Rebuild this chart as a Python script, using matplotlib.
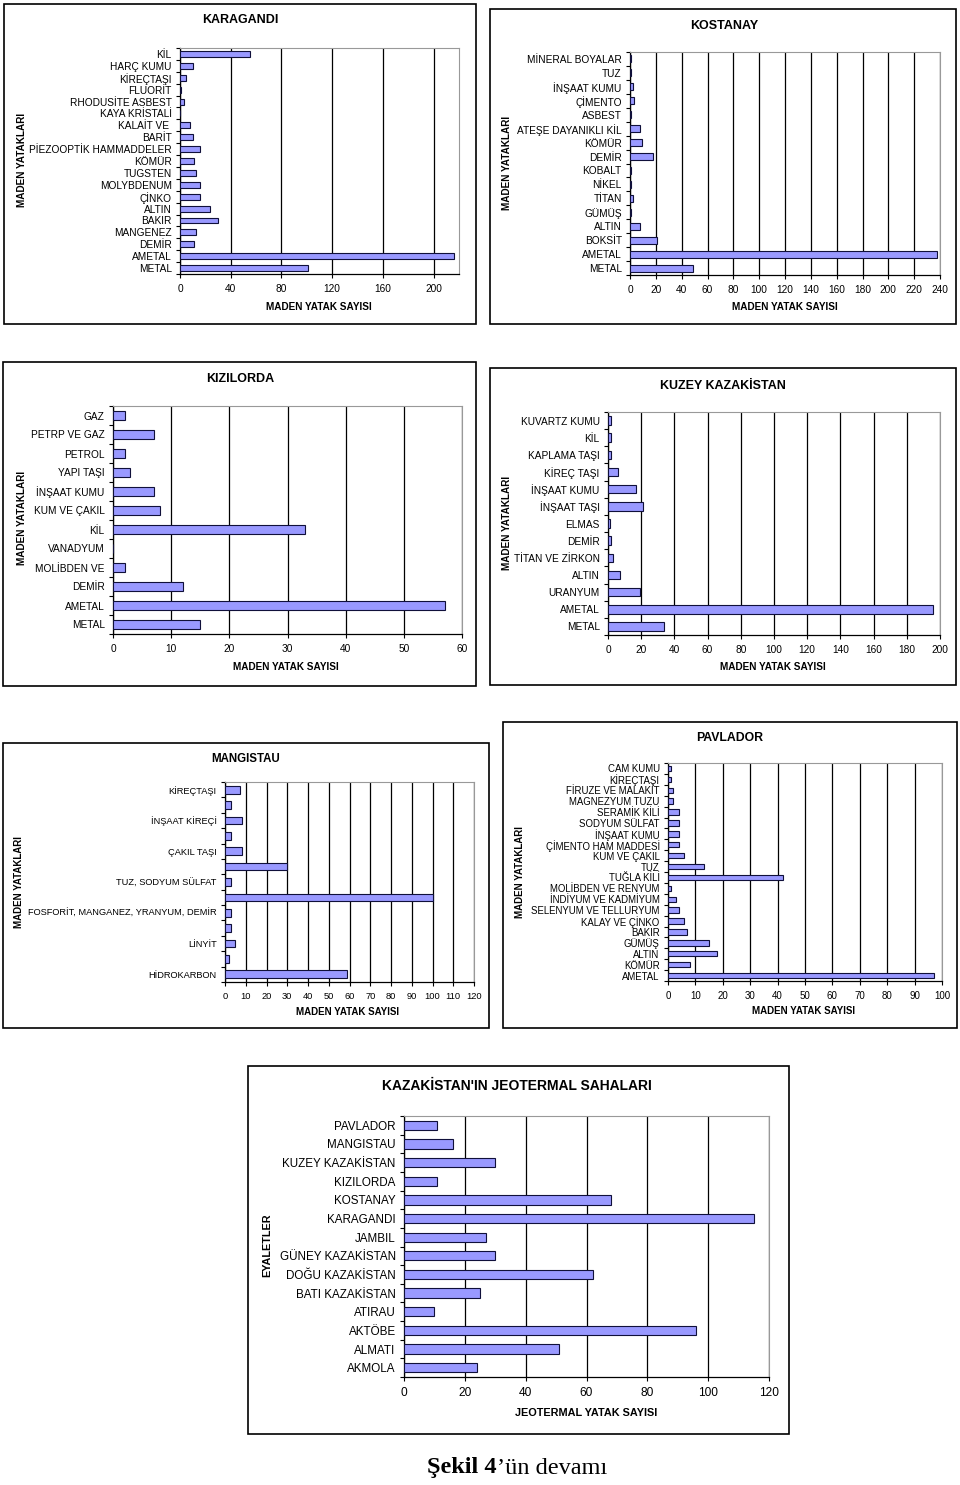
import numpy as np
import matplotlib.pyplot as plt
from matplotlib.patches import Rectangle

plt.rcParams['font.family'] = ['Liberation Sans', 'DejaVu Sans']

W, H = 960, 1485

# data, listed top to bottom as in the picture
karagandi_labels = ['KİL', 'HARÇ KUMU', 'KİREÇTAŞI', 'FLUORİT', 'RHODUSİTE ASBEST',
                    'KAYA KRİSTALİ', 'KALAİT VE ', 'BARİT', 'PİEZOOPTİK HAMMADDELER',
                    'KÖMÜR', 'TUGSTEN', 'MOLYBDENUM', 'ÇİNKO', 'ALTIN', 'BAKIR',
                    'MANGENEZ', 'DEMİR', 'AMETAL', 'METAL']
karagandi_values = [55, 10, 4.5, 1, 3, 0, 8, 10, 16, 11, 12.5, 16, 16, 24, 30, 13, 11, 216, 101]

kostanay_labels = ['MİNERAL BOYALAR', 'TUZ', 'İNŞAAT KUMU', 'ÇİMENTO', 'ASBEST',
                   'ATEŞE DAYANIKLI KİL', 'KÖMÜR', 'DEMİR', 'KOBALT', 'NİKEL', 'TİTAN',
                   'GÜMÜŞ', 'ALTIN', 'BOKSİT', 'AMETAL', 'METAL']
kostanay_values = [1, 1, 2, 3, 1, 7.5, 9, 18, 1, 1, 2, 1, 7.5, 21, 238, 49]

kizilorda_labels = ['GAZ', 'PETRP VE GAZ', 'PETROL', 'YAPI TAŞI', 'İNŞAAT KUMU',
                    'KUM VE ÇAKIL', 'KİL', 'VANADYUM', 'MOLİBDEN VE', 'DEMİR',
                    'AMETAL', 'METAL']
kizilorda_values = [2, 7, 2, 3, 7, 8, 33, 0, 2, 12, 57, 15]

kuzey_labels = ['KUVARTZ KUMU', 'KİL', 'KAPLAMA TAŞI', 'KİREÇ TAŞI', 'İNŞAAT KUMU',
                'İNŞAAT TAŞI', 'ELMAS', 'DEMİR', 'TİTAN VE ZİRKON', 'ALTIN',
                'URANYUM', 'AMETAL', 'METAL']
kuzey_values = [2, 2, 2, 6, 17, 21, 1, 2, 3, 7, 19, 196, 34]

mangistau_labels = ['KİREÇTAŞI', '', 'İNŞAAT KİREÇİ', '', 'ÇAKIL TAŞI', '',
                    'TUZ, SODYUM SÜLFAT', '', 'FOSFORİT, MANGANEZ, YRANYUM, DEMİR', '',
                    'LİNYİT', '', 'HİDROKARBON']
mangistau_values = [7, 3, 8, 3, 8, 30, 3, 100, 3, 3, 5, 2, 59]

pavlador_labels = ['CAM KUMU', 'KİREÇTAŞI', 'FİRUZE VE MALAKİT', 'MAGNEZYUM TUZU',
                   'SERAMİK KİLİ', 'SODYUM SÜLFAT', 'İNŞAAT KUMU', 'ÇİMENTO HAM MADDESİ',
                   'KUM VE ÇAKIL', 'TUZ', 'TUĞLA KİLİ', 'MOLİBDEN VE RENYUM',
                   'İNDİYUM VE KADMİYUM', 'SELENYUM VE TELLURYUM', 'KALAY VE ÇİNKO',
                   'BAKIR', 'GÜMÜŞ', 'ALTIN', 'KÖMÜR', 'AMETAL']
pavlador_values = [1, 1, 2, 2, 4, 4, 4, 4, 6, 13, 42, 1, 3, 4, 6, 7, 15, 18, 8, 97]

jeo_labels = ['PAVLADOR', 'MANGISTAU', 'KUZEY KAZAKİSTAN', 'KIZILORDA', 'KOSTANAY',
              'KARAGANDI', 'JAMBIL', 'GÜNEY KAZAKİSTAN', 'DOĞU KAZAKİSTAN',
              'BATI KAZAKİSTAN', 'ATIRAU', 'AKTÖBE', 'ALMATI', 'AKMOLA']
jeo_values = [11, 16, 30, 11, 68, 115, 27, 30, 62, 25, 10, 96, 51, 24]


def ftext(fig, x, y, s, **kw):
    kw.setdefault('ha', 'center')
    kw.setdefault('va', 'center')
    fig.text(x / W, 1 - y / H, s, **kw)


def panel(fig, box, plot, labels, values, xmax, tmax, step, title, title_xy,
          ylab, ylab_xy, xlab, xlab_xy, fs=7.3, tfs=9, lfs=7.2, xfs=None):
    x0, y0, x1, y1 = box
    fig.patches.append(Rectangle((x0 / W, 1 - y1 / H), (x1 - x0) / W, (y1 - y0) / H,
                                 transform=fig.transFigure, fill=False, lw=1.2, ec='black'))
    px0, py0, px1, py1 = plot
    ax = fig.add_axes([px0 / W, 1 - py1 / H, (px1 - px0) / W, (py1 - py0) / H])
    y = np.arange(len(labels))
    ax.barh(y, values, height=0.5, color='#9999FF', edgecolor='#10103a', linewidth=0.8, zorder=3)
    ax.set_ylim(len(labels) - 0.5, -0.5)
    ax.set_xlim(0, xmax)
    ax.set_xticks(np.arange(0, tmax + 1, step))
    ax.set_yticks(y)
    ax.set_yticklabels(labels, fontsize=fs)
    ax.set_yticks(np.arange(len(labels) + 1) - 0.5, minor=True)
    ax.tick_params(axis='y', which='major', length=0, pad=6)
    ax.tick_params(axis='y', which='minor', length=3, width=0.8)
    ax.tick_params(axis='x', length=3, width=0.8, labelsize=xfs or fs, pad=4)
    ax.grid(axis='x', color='black', lw=0.9)
    ax.set_axisbelow(True)
    for s in ['top', 'right']:
        ax.spines[s].set_color('#999999')
    for s in ['left', 'bottom']:
        ax.spines[s].set_linewidth(0.9)
    ftext(fig, *title_xy, title, fontsize=tfs, fontweight='bold')
    ftext(fig, *ylab_xy, ylab, fontsize=lfs, fontweight='bold', rotation=90)
    ftext(fig, *xlab_xy, xlab, fontsize=lfs, fontweight='bold')
    return ax


fig = plt.figure(figsize=(W / 100, H / 100), dpi=100)

MY = 'MADEN YATAKLARI'
MS = 'MADEN YATAK SAYISI'

panel(fig, (4, 4, 476, 324), (180, 48, 459, 274), karagandi_labels, karagandi_values,
      220, 200, 40, 'KARAGANDI', (240, 20), MY, (22, 160), MS, (319, 307))
panel(fig, (490, 9, 956, 324), (630, 52, 940, 275), kostanay_labels, kostanay_values,
      240, 240, 20, 'KOSTANAY', (724, 26), MY, (507, 163), MS, (785, 307))
panel(fig, (3, 362, 476, 686), (113, 406, 462, 634), kizilorda_labels, kizilorda_values,
      60, 60, 10, 'KIZILORDA', (240, 379), MY, (22, 518), MS, (286, 667))
panel(fig, (490, 368, 956, 685), (608, 412, 940, 635), kuzey_labels, kuzey_values,
      200, 200, 20, 'KUZEY KAZAKİSTAN', (723, 386), MY, (507, 523), MS, (773, 667))
panel(fig, (3, 743, 489, 1028), (225, 782, 474, 982), mangistau_labels, mangistau_values,
      120, 120, 10, 'MANGISTAU', (246, 759), MY, (19, 882), MS, (348, 1012),
      fs=6.7, tfs=8.3, lfs=7)
panel(fig, (503, 722, 957, 1028), (668, 763, 942, 981), pavlador_labels, pavlador_values,
      100, 100, 10, 'PAVLADOR', (730, 738), MY, (520, 872), MS, (804, 1011),
      fs=6.9, tfs=8.8, lfs=7, xfs=7)
panel(fig, (248, 1066, 789, 1434), (404, 1116, 769, 1377), jeo_labels, jeo_values,
      120, 120, 20, "KAZAKİSTAN'IN JEOTERMAL SAHALARI", (517, 1086), 'EYALETLER', (267, 1245),
      'JEOTERMAL YATAK SAYISI', (586, 1413), fs=8.4, tfs=10, lfs=7.8, xfs=8.6)

ftext(fig, 497, 1468, 'Şekil 4', ha='right', family='Liberation Serif',
      fontweight='bold', fontsize=17.5)
ftext(fig, 497, 1468, '’ün devamı', ha='left', family='Liberation Serif', fontsize=17.5)

fig.savefig('out.png', dpi=100)
